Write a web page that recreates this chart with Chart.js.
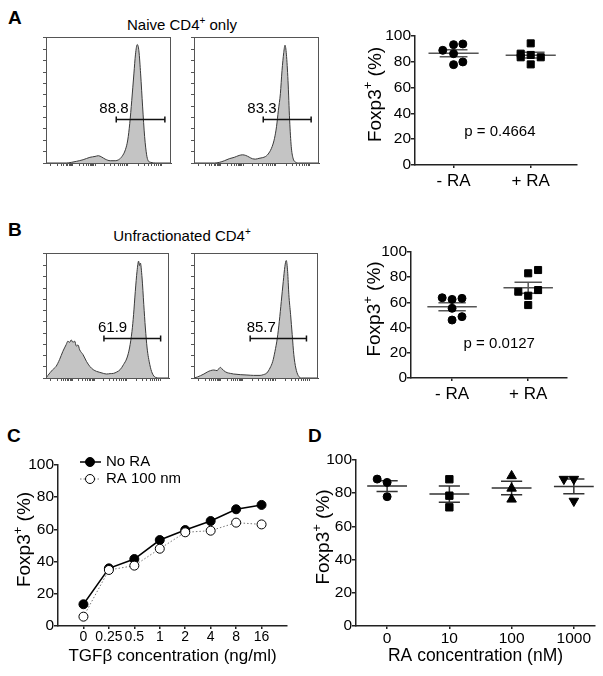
<!DOCTYPE html>
<html>
<head>
<meta charset="utf-8">
<script src="https://cdn.jsdelivr.net/npm/chart.js@4.4.1/dist/chart.umd.min.js"></script>
<style>
  html, body { margin: 0; padding: 0; background: #fff; }
  #fig { position: relative; width: 603px; height: 676px; overflow: hidden;
         font-family: 'Liberation Sans', Arial, Helvetica, sans-serif; color: #000; }
  #fig canvas { position: absolute; }
  .letter { position: absolute; font-weight: bold; font-size: 19px; line-height: 1; }
  .head { position: absolute; font-size: 15px; line-height: 1; white-space: nowrap; transform: translateX(-50%); }
  .sup { display: inline-block; font-size: 10px; position: relative; top: -6px; }
</style>
</head>
<body>
<div id="fig">
  <div class="letter" style="left:8px;top:7.5px">A</div>
  <div class="letter" style="left:8px;top:219.5px">B</div>
  <div class="letter" style="left:7px;top:425.5px">C</div>
  <div class="letter" style="left:308px;top:425.5px">D</div>
  <div class="head" style="left:182px;top:16.5px">Naive CD4<span class="sup">+</span> only</div>
  <div class="head" style="left:182px;top:228px">Unfractionated CD4<span class="sup">+</span></div>

  <canvas id="hA1" width="145" height="150" style="left:36px;top:27px"></canvas>
  <canvas id="hA2" width="145" height="150" style="left:184px;top:27px"></canvas>
  <canvas id="hB1" width="143" height="149" style="left:36px;top:243px"></canvas>
  <canvas id="hB2" width="144" height="149" style="left:184px;top:243px"></canvas>
  <canvas id="sA" width="263" height="180" style="left:340px;top:20px"></canvas>
  <canvas id="sB" width="263" height="174" style="left:340px;top:236px"></canvas>
  <canvas id="cC" width="300" height="236" style="left:0px;top:440px"></canvas>
  <canvas id="cD" width="303" height="236" style="left:300px;top:440px"></canvas>
</div>
<script>
// ---------- data ----------
// histograms: [channel (0-100 across the plot), events (% of plot height)]
const histNaiveNoRA = [[0,0],[16.2,0],[20.3,0.5],[24.3,1.3],[29.7,2.6],[35.1,4.5],[39.2,5.2],[41.9,5.8],[44.6,4.7],
  [47.3,3.1],[51.4,1.8],[55.4,1.8],[58.1,2.6],[60.8,5.2],[63.5,10.5],[65.4,18.3],[67.0,31.4],[68.6,49.7],[70.3,70.7],
  [71.6,86.4],[73.0,94],[74.3,89],[75.7,70.7],[77.3,44.5],[78.9,20.9],[80.5,6.5],[81.6,2.1],[83.8,0.5],[87.8,0],[100,0]];
const histNaiveRA = [[0,0],[16.4,0],[20.3,0.5],[24.3,1.8],[28.2,3.4],[32.2,4.5],[36.1,6.0],[38.8,6.5],[41.4,6.0],
  [44.1,4.7],[46.7,3.4],[49.3,3.1],[52.0,3.7],[54.6,4.2],[57.3,5.2],[59.9,7.9],[62.5,13],[64.4,19.6],[66.0,28.8],
  [67.5,41.9],[69.1,55],[70.4,73.3],[71.8,87.7],[72.8,93.5],[73.9,86.4],[75.2,65.4],[76.5,34],[77.8,13],[79.2,3.9],
  [81.0,0.8],[83.7,0],[100,0]];
const histUnfracNoRA = [[0,0],[1.4,1.9],[5.5,6.7],[8.2,9.3],[11.0,14.7],[13.7,21.3],[16.4,26.7],[17.8,29.5],[19.2,28.5],
  [20.5,30.5],[21.9,28.5],[23.3,29.5],[24.7,25.5],[26.0,26.5],[27.4,22.5],[30.1,18.7],[32.9,13.3],[35.6,9.3],[38.4,6.7],
  [41.1,5.3],[43.8,4.5],[46.6,3.7],[49.3,3.2],[52.1,3.5],[54.8,3.7],[57.5,4.8],[60.3,6.7],[63.0,10.7],[65.8,16],
  [67.9,24],[69.9,37.3],[71.2,50.7],[72.6,69.3],[74.0,85.3],[75.3,93.5],[76.0,90],[76.7,92],[78.1,80],[79.5,58.7],
  [80.8,40],[82.2,24],[84.4,10.7],[86.3,4],[89.0,0.5],[91.8,0],[100,0]];
const histUnfracRA = [[0,0],[2.7,0.8],[5.3,1.9],[8,3.2],[10.7,4.8],[13.3,5.9],[16,6.4],[18.7,5.9],[20,7.5],[21.3,8.5],
  [22.7,7.2],[24,5.9],[26.7,4.3],[29.3,3.7],[32,3.2],[37.3,2.7],[42.7,2.4],[48,2.1],[53.3,2.1],[56,2.7],[58.7,4],
  [61.3,8],[63.5,13.3],[65.3,21.3],[67.2,32],[68.8,45.3],[70.4,61.3],[72,77.3],[73.3,89.3],[74.4,94],[75.5,85.3],
  [76.5,66.7],[77.9,50.7],[79.2,34.7],[80.5,18.7],[82.1,8],[84,2.1],[86.7,0],[100,0]];
// gates: [from, to, level], and the % inside
const gateNaiveNoRA = [56.2, 95.1, 35.3], pctNaiveNoRA = '88.8';
const gateNaiveRA = [55.4, 93.7, 35.3], pctNaiveRA = '83.3';
const gateUnfracNoRA = [47.1, 93.2, 32], pctUnfracNoRA = '61.9';
const gateUnfracRA = [45.3, 90.7, 32], pctUnfracRA = '85.7';
const histMajorTicks = [3.8, 21.4, 39.2, 65.6, 92.8];

// Foxp3+ % per mouse
const groupLabels = ['- RA', '+ RA'];
const naiveMinusRA = [88.9, 93.3, 93.8, 86.3, 77.8, 79.9];
const naivePlusRA = [94.3, 86.3, 83.5, 85.3, 83.5, 78.0];
const unfracMinusRA = [63.7, 62.4, 63.2, 55.3, 46.0, 48.7];
const unfracPlusRA = [83.1, 85.7, 68.5, 69.8, 65.3, 57.9];
const pNaive = 'p = 0.4664';
const pUnfrac = 'p = 0.0127';

// TGFb titration
const tgfLabels = ['0', '0.25', '0.5', '1', '2', '4', '8', '16'];
const noRA = [13.5, 35.8, 41.6, 53.4, 59.6, 65.2, 72.5, 75.2];
const ra100nm = [5.8, 34.8, 37.5, 48, 58.2, 59.2, 64.2, 63.1];

// RA titration
const raLabels = ['0', '10', '100', '1000'];
const ra0 = [88.5, 86.5, 77.9];
const ra10 = [88.4, 78.5, 71.5];
const ra100 = [90.4, 82.9, 76.3];
const ra1000 = [88.5, 88.5, 75.3];

// ---------- layout / style ----------
const FONT = "'Liberation Sans', Arial, Helvetica, sans-serif";
Chart.defaults.font.family = FONT;
Chart.defaults.color = '#000';

// side-by-side spread of overlapping dots (x units)
const jitNaiveMinus = [-0.14, 0, 0.12, 0, 0, 0.12];
const jitNaivePlus = [0, -0.13, -0.13, 0, 0.13, 0];
const jitUnfracMinus = [-0.13, 0, 0.13, 0, 0, 0.13];
const jitUnfracPlus = [0, 0.13, -0.13, 0.13, 0, 0];
const jitRA0 = [-0.16, 0, 0];
const jitRA1000 = [-0.16, 0, 0];
const jitNone = [0, 0, 0];

const fixW = w => s => { s.width = w; };
const fixH = h => s => { s.height = h; };

function histTickValues() {
  const out = [];
  for (let i = 0; i < histMajorTicks.length - 1; i++) {
    const a = histMajorTicks[i], b = histMajorTicks[i + 1];
    out.push(a);
    for (let k = 2; k <= 9; k++) out.push(a + (b - a) * Math.log10(k));
  }
  out.push(histMajorTicks[histMajorTicks.length - 1]);
  return out;
}

const boxPlugin = {
  id: 'box',
  afterDraw(chart) {
    const { ctx, chartArea: a } = chart;
    ctx.save();
    ctx.strokeStyle = '#555';
    ctx.lineWidth = 1;
    ctx.strokeRect(Math.round(a.left) + 0.5, Math.round(a.top) + 0.5, Math.round(a.width) - 1, Math.round(a.height));
    ctx.restore();
  }
};

const gatePlugin = {
  id: 'gate',
  afterDatasetsDraw(chart, args, o) {
    const { ctx, scales: { x, y } } = chart;
    const x0 = x.getPixelForValue(o.gate[0]), x1 = x.getPixelForValue(o.gate[1]);
    const yy = Math.round(y.getPixelForValue(o.gate[2])) + 0.5;
    ctx.save();
    ctx.strokeStyle = '#111';
    ctx.lineWidth = 1.5;
    ctx.beginPath();
    ctx.moveTo(x0, yy); ctx.lineTo(x1, yy);
    ctx.moveTo(x0, yy - 3); ctx.lineTo(x0, yy + 3);
    ctx.moveTo(x1, yy - 3); ctx.lineTo(x1, yy + 3);
    ctx.stroke();
    ctx.font = '15px ' + FONT;
    ctx.fillStyle = '#000';
    ctx.textAlign = 'right';
    ctx.textBaseline = 'alphabetic';
    ctx.fillText(o.text, x.getPixelForValue(66), yy - 7);
    ctx.restore();
  }
};

const noteTextPlugin = {
  id: 'note',
  afterDraw(chart, args, o) {
    if (!o.text) return;
    const { ctx, scales: { x, y } } = chart;
    ctx.save();
    ctx.font = '15px ' + FONT;
    ctx.fillStyle = '#000';
    ctx.textAlign = 'center';
    ctx.textBaseline = 'middle';
    ctx.fillText(o.text, x.getPixelForValue(o.x), y.getPixelForValue(o.y));
    ctx.restore();
  }
};

// rotated "Foxp3+ (%)" with a real superscript
const yTitlePlugin = {
  id: 'ytitle',
  afterDraw(chart, args, o) {
    const { ctx, chartArea: a } = chart;
    const parts = [['Foxp3', '19px ' + FONT, 0], ['+', '13px ' + FONT, -7], [' (%)', '19px ' + FONT, 0]];
    ctx.save();
    ctx.translate(o.x, (a.top + a.bottom) / 2 - 6);
    ctx.rotate(-Math.PI / 2);
    ctx.fillStyle = '#000';
    ctx.textBaseline = 'middle';
    ctx.textAlign = 'left';
    let total = 0;
    parts.forEach(p => { ctx.font = p[1]; total += ctx.measureText(p[0]).width; });
    let cx = -total / 2;
    parts.forEach(p => {
      ctx.font = p[1];
      ctx.fillText(p[0], cx, p[2]);
      cx += ctx.measureText(p[0]).width;
    });
    ctx.restore();
  }
};

const legendPlugin = {
  id: 'lineLegend',
  afterDraw(chart) {
    const { ctx, chartArea: a } = chart;
    const rows = chart.data.datasets.map((ds, i) => ({ ds, y: a.top - 3 + i * 17 }));
    ctx.save();
    rows.forEach(({ ds, y }) => {
      ctx.strokeStyle = ds.borderColor;
      ctx.lineWidth = ds.borderWidth;
      ctx.setLineDash(ds.borderDash || []);
      ctx.beginPath();
      ctx.moveTo(a.left + 22, y); ctx.lineTo(a.left + 43, y);
      ctx.stroke();
      ctx.setLineDash([]);
      ctx.beginPath();
      ctx.arc(a.left + 32, y, ds.pointRadius, 0, Math.PI * 2);
      ctx.fillStyle = ds.pointBackgroundColor;
      ctx.fill();
      ctx.lineWidth = 1;
      ctx.strokeStyle = '#000';
      ctx.stroke();
      ctx.fillStyle = '#000';
      ctx.font = '15px ' + FONT;
      ctx.textAlign = 'left';
      ctx.textBaseline = 'middle';
      ctx.fillText(ds.label, a.left + 48, y);
    });
    ctx.restore();
  }
};

function histChart(id, pts, gate, pct) {
  new Chart(document.getElementById(id), {
    type: 'line',
    data: {
      datasets: [{
        data: pts.map(p => ({ x: p[0], y: p[1] })),
        fill: 'origin',
        backgroundColor: '#c4c4c4',
        borderColor: '#3a3a3a',
        borderWidth: 1,
        pointRadius: 0,
        cubicInterpolationMode: 'monotone'
      }]
    },
    options: {
      responsive: false,
      animation: false,
      events: [],
      layout: { padding: { top: 10, right: 10, left: 0, bottom: 0 } },
      plugins: { legend: { display: false }, tooltip: { enabled: false }, gate: { gate: gate, text: pct } },
      scales: {
        x: {
          type: 'linear', min: 0, max: 100,
          afterBuildTicks: s => { s.ticks = histTickValues().map(v => ({ value: v })); },
          afterFit: fixH(14),
          ticks: { display: false },
          grid: { drawOnChartArea: false, tickLength: 3, color: '#555' },
          border: { color: '#444', width: 1 }
        },
        y: {
          min: 0, max: 100,
          afterFit: fixW(10),
          ticks: { display: false, stepSize: 9 },
          grid: { drawOnChartArea: false, tickLength: 3, color: '#555' },
          border: { color: '#444', width: 1 }
        }
      }
    },
    plugins: [boxPlugin, gatePlugin]
  });
}

function meanSemLines(center, vals, halfMean, halfCap) {
  const n = vals.length;
  const m = vals.reduce((s, v) => s + v, 0) / n;
  const sd = Math.sqrt(vals.reduce((s, v) => s + (v - m) * (v - m), 0) / (n - 1));
  const se = sd / Math.sqrt(n);
  return [
    { x: center - halfMean, y: m }, { x: center + halfMean, y: m }, { x: center, y: null },
    { x: center - halfCap, y: m + se }, { x: center + halfCap, y: m + se }, { x: center, y: null },
    { x: center - halfCap, y: m - se }, { x: center + halfCap, y: m - se }, { x: center, y: null },
    { x: center, y: m - se }, { x: center, y: m + se }
  ];
}

function dots(vals, center, jit, style, radius, rotation) {
  return {
    data: vals.map((v, i) => ({ x: center + jit[i], y: v })),
    pointStyle: style,
    pointRadius: radius,
    pointRotation: rotation || 0,
    pointBackgroundColor: '#000',
    pointBorderColor: '#000',
    pointBorderWidth: 1,
    showLine: false,
    order: 0
  };
}

function statsSet(groups, halfMean, halfCap, color) {
  let data = [];
  groups.forEach((g, i) => {
    if (i > 0) data.push({ x: i, y: null });
    data = data.concat(meanSemLines(i, g, halfMean, halfCap));
  });
  return { data, showLine: true, borderColor: color, borderWidth: 1.5, pointRadius: 0, spanGaps: false, order: 1 };
}

function yAxis(width) {
  return {
    min: 0, max: 100,
    afterFit: fixW(width),
    ticks: { stepSize: 20, font: { size: 15.5 }, padding: 0, color: '#000' },
    grid: { drawOnChartArea: false, tickLength: 4, color: '#222', lineWidth: 1.5 },
    border: { color: '#222', width: 1.5 }
  };
}

function catAxis(labels, min, max, height, padding, size, extra) {
  return Object.assign({
    type: 'linear', min, max,
    afterBuildTicks: s => { s.ticks = labels.map((_, i) => ({ value: i })); },
    afterFit: fixH(height),
    ticks: { callback: v => labels[v] ?? '', font: { size }, padding, color: '#000', maxRotation: 0, autoSkip: false },
    grid: { drawOnChartArea: false, tickLength: 3, color: '#222', lineWidth: 1.5 },
    border: { color: '#222', width: 1.5 }
  }, extra || {});
}

function groupChart(id, minus, plus, jm, jp, pText, xMin, xMax, yW, xH, padR, titleX, noteAt) {
  new Chart(document.getElementById(id), {
    type: 'scatter',
    data: {
      datasets: [
        dots(minus, 0, jm, 'circle', 4),
        dots(plus, 1, jp, 'rect', 5),
        statsSet([minus, plus], 0.325, 0.18, '#555')
      ]
    },
    options: {
      responsive: false, animation: false, events: [],
      layout: { padding: { top: 16, right: padR, left: 0, bottom: 0 } },
      plugins: {
        legend: { display: false }, tooltip: { enabled: false },
        note: { text: pText, x: noteAt[0], y: noteAt[1] },
        ytitle: { x: titleX }
      },
      scales: {
        x: catAxis(groupLabels, xMin, xMax, xH, 3, 17),
        y: yAxis(yW)
      }
    },
    plugins: [noteTextPlugin, yTitlePlugin]
  });
}

// ---------- draw ----------
histChart('hA1', histNaiveNoRA, gateNaiveNoRA, pctNaiveNoRA);
histChart('hA2', histNaiveRA, gateNaiveRA, pctNaiveRA);
histChart('hB1', histUnfracNoRA, gateUnfracNoRA, pctUnfracNoRA);
histChart('hB2', histUnfracRA, gateUnfracRA, pctUnfracRA);

groupChart('sA', naiveMinusRA, naivePlusRA, jitNaiveMinus, jitNaivePlus, pNaive, -0.5, 1.6, 75, 35, 26, 35.5, [0.6, 26]);
groupChart('sB', unfracMinusRA, unfracPlusRA, jitUnfracMinus, jitUnfracPlus, pUnfrac, -0.54, 1.51, 71, 32, 36, 35, [0.62, 27]);

new Chart(document.getElementById('cC'), {
  type: 'scatter',
  data: {
    datasets: [
      {
        label: 'No RA',
        data: noRA.map((v, i) => ({ x: i, y: v })),
        showLine: true, borderColor: '#000', borderWidth: 1.5,
        pointRadius: 4.5, pointBackgroundColor: '#000', pointBorderColor: '#000', pointBorderWidth: 1,
        order: 1
      },
      {
        label: 'RA 100 nm',
        data: ra100nm.map((v, i) => ({ x: i, y: v })),
        showLine: true, borderColor: '#777', borderWidth: 1, borderDash: [1.5, 2],
        pointRadius: 4.5, pointBackgroundColor: '#fff', pointBorderColor: '#000', pointBorderWidth: 1,
        order: 0
      }
    ]
  },
  options: {
    responsive: false, animation: false, events: [],
    layout: { padding: { top: 25, right: 13, left: 0, bottom: 0 } },
    plugins: { legend: { display: false }, tooltip: { enabled: false }, ytitle: { x: 25 } },
    scales: {
      x: catAxis(tgfLabels, -1, 8, 50, 0, 14, {
        title: { display: true, text: 'TGFβ concentration (ng/ml)', font: { size: 17 }, padding: { top: 0, bottom: 9 }, color: '#000' }
      }),
      y: yAxis(58)
    }
  },
  plugins: [yTitlePlugin, legendPlugin]
});

new Chart(document.getElementById('cD'), {
  type: 'scatter',
  data: {
    datasets: [
      dots(ra0, 0, jitRA0, 'circle', 4),
      dots(ra10, 1, jitNone, 'rect', 5.2),
      dots(ra100, 2, jitNone, 'triangle', 5.5),
      dots(ra1000, 3, jitRA1000, 'triangle', 5.5, 180),
      statsSet([ra0, ra10, ra100, ra1000], 0.32, 0.17, '#333')
    ]
  },
  options: {
    responsive: false, animation: false, events: [],
    layout: { padding: { top: 20, right: 8, left: 0, bottom: 0 } },
    plugins: { legend: { display: false }, tooltip: { enabled: false }, ytitle: { x: 24 } },
    scales: {
      x: catAxis(raLabels, -0.5, 3.34, 50, 0, 15.5, {
        title: { display: true, text: 'RA concentration (nM)', font: { size: 17.5 }, padding: { top: 0, bottom: 9 }, color: '#000' }
      }),
      y: yAxis(56)
    }
  },
  plugins: [yTitlePlugin]
});
</script>
</body>
</html>
